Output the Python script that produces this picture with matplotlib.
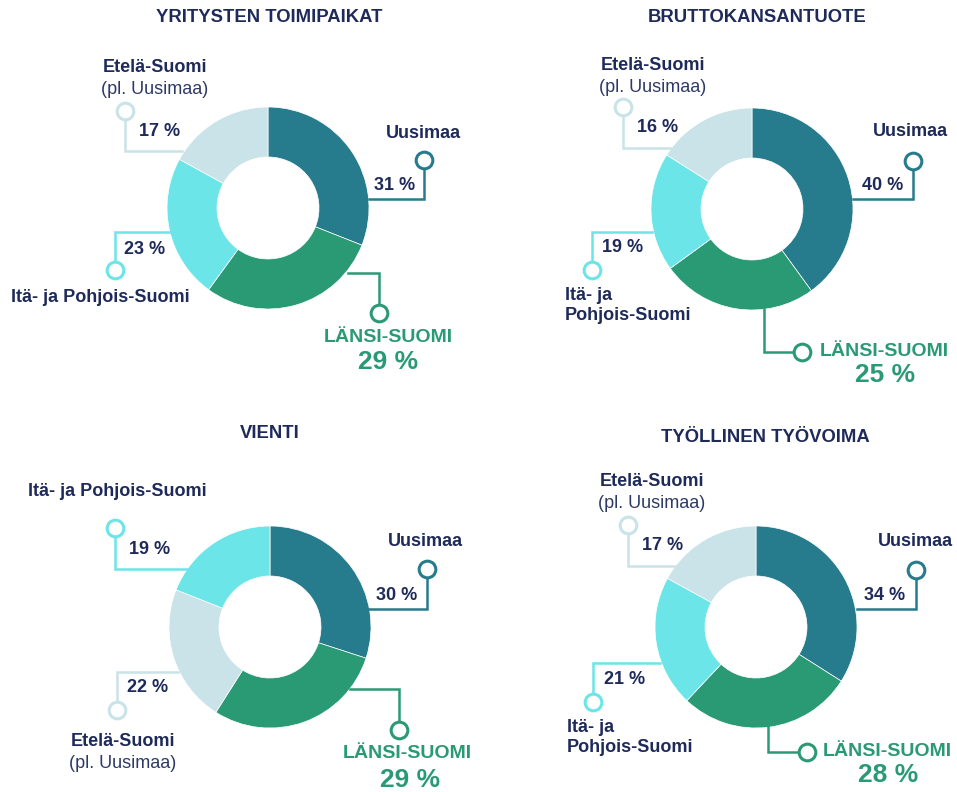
import matplotlib
matplotlib.use("Agg")
import matplotlib.pyplot as plt

plt.rcParams['font.family'] = ['Liberation Sans', 'DejaVu Sans']

# ---------------- data ----------------
titles = ["YRITYSTEN TOIMIPAIKAT", "BRUTTOKANSANTUOTE", "VIENTI", "TYÖLLINEN TYÖVOIMA"]
regions = ["Uusimaa", "Länsi-Suomi", "Itä- ja Pohjois-Suomi", "Etelä-Suomi"]
toimipaikat = [31, 29, 23, 17]
bkt = [40, 25, 19, 16]
vienti = [30, 29, 19, 22]
tyovoima = [34, 28, 21, 17]
panel_values = [toimipaikat, bkt, vienti, tyovoima]
# clockwise slice order (indices into regions) starting at 12 o'clock
slice_orders = [[0, 1, 2, 3], [0, 1, 2, 3], [0, 1, 3, 2], [0, 1, 2, 3]]

colors = {0: "#267B8C", 1: "#2A9A74", 2: "#6CE5E8", 3: "#C9E3E8"}
NAVY = "#1E2A5A"
GREEN = "#2A9A74"

# ---------------- layout (pixels, origin top-left) ----------------
W, H = 957, 792
R_OUT, R_IN = 101, 51
centers = [(268, 208), (752, 209), (270, 627), (756, 627)]
title_pos = [(269, 17), (757, 17), (270, 433), (765, 437)]

conn = [
    {0: [(369, 199), (424, 199), (424, 160)],
     1: [(348, 273), (379, 273), (379, 313)],
     2: [(170, 232), (115, 232), (115, 270)],
     3: [(182, 151), (125, 151), (125, 111)]},
    {0: [(853, 199), (913, 199), (913, 161)],
     1: [(764, 309), (764, 352), (802, 352)],
     2: [(652, 232), (592, 232), (592, 270)],
     3: [(670, 148), (623, 148), (623, 107)]},
    {0: [(368, 609), (427, 609), (427, 569)],
     1: [(350, 689), (399, 689), (399, 730)],
     2: [(187, 569), (115, 569), (115, 528)],
     3: [(178, 672), (117, 672), (117, 710)]},
    {0: [(857, 609), (916, 609), (916, 570)],
     1: [(768, 726), (768, 752), (807, 752)],
     2: [(660, 663), (593, 663), (593, 702)],
     3: [(675, 566), (628, 566), (628, 525)]},
]
pct_pos = [
    {0: (395, 185), 1: (388, 362), 2: (145, 249), 3: (160, 132)},
    {0: (883, 185), 1: (885, 375), 2: (623, 248), 3: (658, 128)},
    {0: (397, 595), 1: (410, 780), 2: (150, 550), 3: (148, 688)},
    {0: (885, 595), 1: (888, 775), 2: (625, 680), 3: (663, 546)},
]
uusimaa_pos = [(423, 133), (910, 131), (425, 542), (915, 542)]
lansi_pos = [(388, 337, "center"), (820, 352, "left"), (407, 753, "center"), (823, 752, "left")]
ita_pos = [[(100, 298, "center", "Itä- ja Pohjois-Suomi")],
           [(565, 295, "left", "Itä- ja"), (565, 316, "left", "Pohjois-Suomi")],
           [(117, 492, "center", "Itä- ja Pohjois-Suomi")],
           [(567, 727, "left", "Itä- ja"), (567, 748, "left", "Pohjois-Suomi")]]
etela_pos = [(155, 67), (653, 65), (123, 742), (652, 482)]


def Y(py):
    return H - py


fig = plt.figure(figsize=(W / 100, H / 100), dpi=100)
ax = fig.add_axes([0, 0, 1, 1])

FS = 13
for p in range(4):
    vals = panel_values[p]
    order = slice_orders[p]
    cx, cy = centers[p]
    ax.pie([vals[i] for i in order], colors=[colors[i] for i in order],
           startangle=90, counterclock=False, center=(cx, Y(cy)),
           radius=R_OUT, frame=True,
           wedgeprops=dict(width=R_OUT - R_IN, edgecolor="white", linewidth=0.5))
    tx, ty = title_pos[p]
    ax.text(tx, Y(ty), titles[p], ha="center", va="center", fontsize=13.3,
            fontweight="bold", color=NAVY)
    for i in range(4):
        pts = conn[p][i]
        xs = [q[0] for q in pts]
        ys = [Y(q[1]) for q in pts]
        ax.plot(xs, ys, color=colors[i], lw=1.8, solid_joinstyle="miter", zorder=1)
        ax.plot(xs[-1], ys[-1], marker="o", ms=12, mfc="white", mec=colors[i], mew=2.2, zorder=3)
    for i in range(4):
        px, py = pct_pos[p][i]
        if i == 1:
            ax.text(px, Y(py), f"{vals[i]} %", ha="center", va="center", fontsize=19,
                    fontweight="bold", color=GREEN)
        else:
            ax.text(px, Y(py), f"{vals[i]} %", ha="center", va="center", fontsize=FS,
                    fontweight="bold", color=NAVY)
    ux, uy = uusimaa_pos[p]
    ax.text(ux, Y(uy), regions[0], ha="center", va="center", fontsize=FS, fontweight="bold", color=NAVY)
    lx, ly, lha = lansi_pos[p]
    ax.text(lx, Y(ly), regions[1].upper(), ha=lha, va="center", fontsize=14, fontweight="bold", color=GREEN)
    for (ix, iy, iha, txt) in ita_pos[p]:
        ax.text(ix, Y(iy), txt, ha=iha, va="center", fontsize=FS, fontweight="bold", color=NAVY)
    ex, ey = etela_pos[p]
    ax.text(ex, Y(ey), regions[3], ha="center", va="center", fontsize=FS, fontweight="bold", color=NAVY)
    ax.text(ex, Y(ey + 22), "(pl. Uusimaa)", ha="center", va="center", fontsize=FS, color="#2E3A66")

ax.set_xlim(0, W)
ax.set_ylim(0, H)
ax.set_aspect("auto")
ax.axis("off")
fig.savefig("out.png", dpi=100, facecolor="white")
